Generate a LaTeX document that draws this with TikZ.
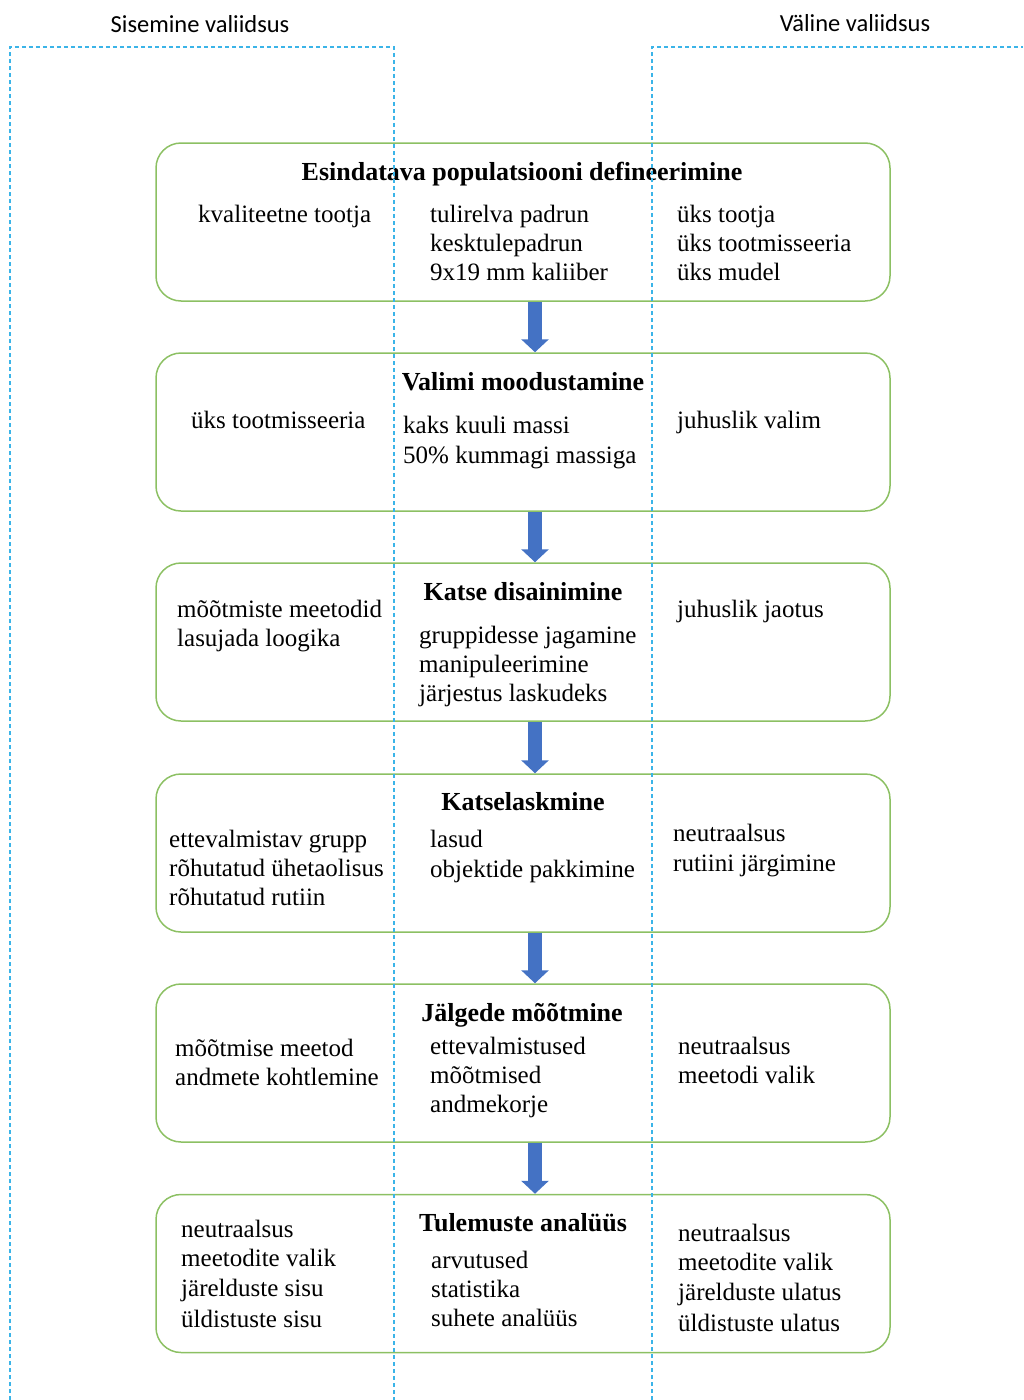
\documentclass[tikz,border=0pt]{standalone}
\usepackage{fontspec}
\setmainfont{Liberation Serif}
\newfontfamily\hdrfont{Carlito}
\usetikzlibrary{arrows.meta}
\definecolor{boxgreen}{HTML}{8CC063}
\definecolor{dashblue}{HTML}{3BB4E8}
\definecolor{arrowblue}{HTML}{4472C4}
\tikzset{
  stagebox/.style={draw=boxgreen, line width=1.5pt, rounded corners=25pt, minimum width=734pt, minimum height=158pt, inner sep=0pt},
  frameline/.style={draw=dashblue, line width=1.3pt, dash pattern=on 4pt off 3pt},
  flowarrow/.style={draw=arrowblue, line width=14pt, -{Triangle[width=27pt,length=13pt]}},
  txt/.style={anchor=base west, inner sep=0pt, font=\fontsize{25}{29}\selectfont},
  ttl/.style={anchor=base, inner sep=0pt, font=\fontsize{26}{30}\selectfont\bfseries},
  hdr/.style={anchor=base, inner sep=0pt, font=\hdrfont\fontsize{24.5}{28}\selectfont, text=black}
}
\begin{document}
\begin{tikzpicture}[x=1pt,y=-1pt]
\useasboundingbox (0,0) rectangle (1023,1400);
% headers
\node[hdr] (hL) at (200,32) {Sisemine valiidsus};
\node[hdr] (hR) at (855,31) {Väline valiidsus};
% boxes
\node[stagebox] (b1) at (523,222) {};
\node[stagebox] (b2) at (523,432) {};
\node[stagebox] (b3) at (523,642) {};
\node[stagebox] (b4) at (523,853) {};
\node[stagebox] (b5) at (523,1063) {};
\node[stagebox] (b6) at (523,1273.5) {};
% arrows
\foreach \a/\b in {b1/b2,b2/b3,b3/b4,b4/b5,b5/b6}
  \draw[flowarrow] ([xshift=12pt]\a.south) -- ([xshift=12pt]\b.north);
% box 1
\node[ttl] (t1) at (522,180) {Esindatava populatsiooni defineerimine};
\node[txt] (b1l1) at (198,222) {kvaliteetne tootja};
\node[txt] (b1m1) at (430,222) {tulirelva padrun};
\node[txt] (b1m2) at (430,251) {kesktulepadrun};
\node[txt] (b1m3) at (430,280) {9x19 mm kaliiber};
\node[txt] (b1r1) at (677,222) {üks tootja};
\node[txt] (b1r2) at (677,251) {üks tootmisseeria};
\node[txt] (b1r3) at (677,280) {üks mudel};
% box 2
\node[ttl] (t2) at (523,390) {Valimi moodustamine};
\node[txt] (b2l1) at (191,428) {üks tootmisseeria};
\node[txt] (b2m1) at (403,433) {kaks kuuli massi};
\node[txt] (b2m2) at (403,463) {50\% kummagi massiga};
\node[txt] (b2r1) at (677,428) {juhuslik valim};
% box 3
\node[ttl] (t3) at (523,600) {Katse disainimine};
\node[txt] (b3l1) at (177,617) {mõõtmiste meetodid};
\node[txt] (b3l2) at (177,646) {lasujada loogika};
\node[txt] (b3m1) at (419,643) {gruppidesse jagamine};
\node[txt] (b3m2) at (419,672) {manipuleerimine};
\node[txt] (b3m3) at (419,701) {järjestus laskudeks};
\node[txt] (b3r1) at (677,617) {juhuslik jaotus};
% box 4
\node[ttl] (t4) at (523,810) {Katselaskmine};
\node[txt] (b4l1) at (169,847) {ettevalmistav grupp};
\node[txt] (b4l2) at (169,876) {rõhutatud ühetaolisus};
\node[txt] (b4l3) at (169,905) {rõhutatud rutiin};
\node[txt] (b4m1) at (430,847) {lasud};
\node[txt] (b4m2) at (430,877) {objektide pakkimine};
\node[txt] (b4r1) at (673,841) {neutraalsus};
\node[txt] (b4r2) at (673,871) {rutiini järgimine};
% box 5
\node[ttl] (t5) at (522,1021) {Jälgede mõõtmine};
\node[txt] (b5l1) at (175,1056) {mõõtmise meetod};
\node[txt] (b5l2) at (175,1085) {andmete kohtlemine};
\node[txt] (b5m1) at (430,1054) {ettevalmistused};
\node[txt] (b5m2) at (430,1083) {mõõtmised};
\node[txt] (b5m3) at (430,1112) {andmekorje};
\node[txt] (b5r1) at (678,1054) {neutraalsus};
\node[txt] (b5r2) at (678,1083) {meetodi valik};
% box 6
\node[ttl] (t6) at (523,1231) {Tulemuste analüüs};
\node[txt] (b6l1) at (181,1237) {neutraalsus};
\node[txt] (b6l2) at (181,1266) {meetodite valik};
\node[txt] (b6l3) at (181,1296) {järelduste sisu};
\node[txt] (b6l4) at (181,1327) {üldistuste sisu};
\node[txt] (b6m1) at (431,1268) {arvutused};
\node[txt] (b6m2) at (431,1297) {statistika};
\node[txt] (b6m3) at (431,1326) {suhete analüüs};
\node[txt] (b6r1) at (678,1241) {neutraalsus};
\node[txt] (b6r2) at (678,1270) {meetodite valik};
\node[txt] (b6r3) at (678,1300) {järelduste ulatus};
\node[txt] (b6r4) at (678,1331) {üldistuste ulatus};
% dashed frames
\coordinate (fL1) at (10,1400);
\coordinate (fL2) at (10,47);
\coordinate (fL3) at (394,47);
\coordinate (fL4) at (394,1400);
\coordinate (fR1) at (652,1400);
\coordinate (fR2) at (652,47);
\coordinate (fR3) at (1023,47);
\draw[frameline] (fL1) -- (fL2) -- (fL3) -- (fL4);
\draw[frameline] (fR1) -- (fR2) -- (fR3);
\end{tikzpicture}
\end{document}
